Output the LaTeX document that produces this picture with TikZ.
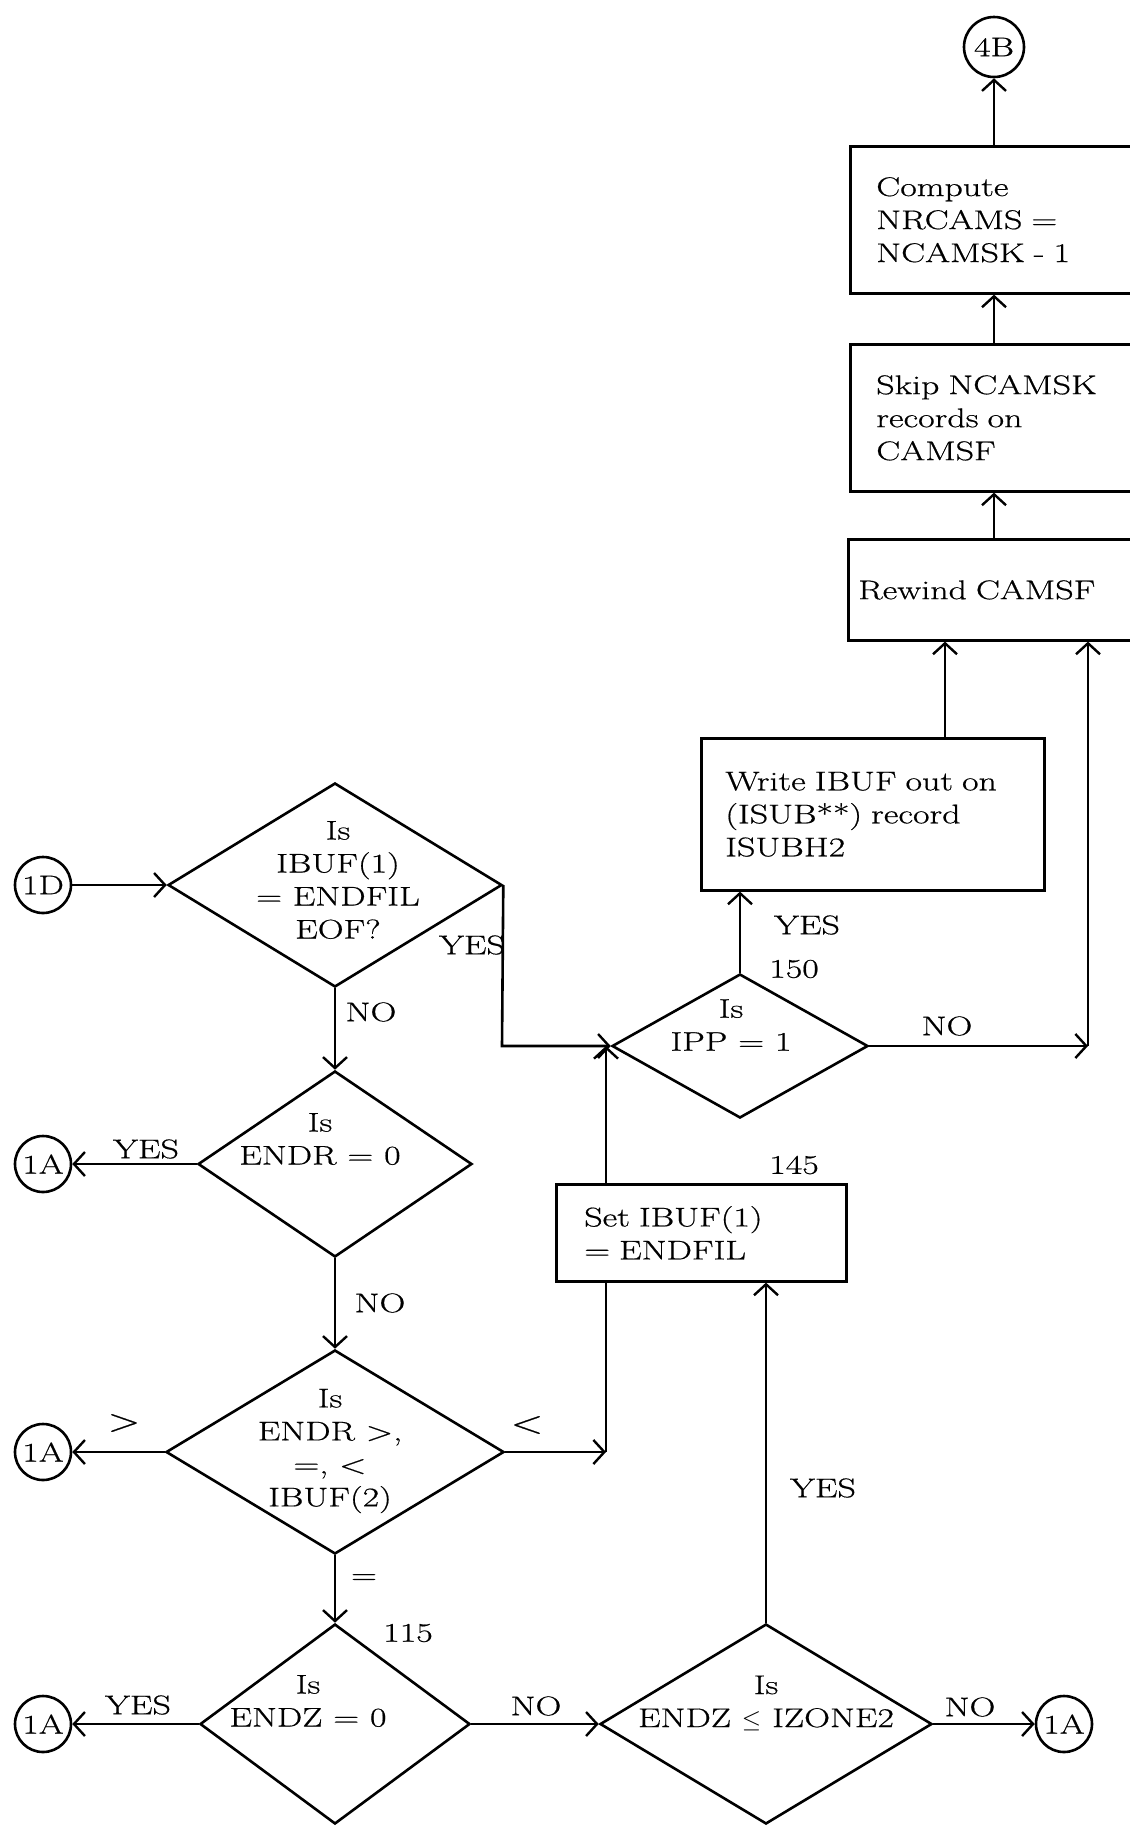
\documentclass[tikz,border=0pt]{standalone}
\usepackage{fontspec}
\setmainfont{Latin Modern Roman}[FakeStretch=1.33,FakeBold=0.6]
\usetikzlibrary{arrows.meta,shapes.geometric}
\begin{document}
\begin{tikzpicture}[x=1pt,y=-1pt,line width=2.6pt,
  every node/.style={font=\fontsize{27}{33}\selectfont},
  arr/.style={-{Straight Barb[length=11pt,width=24pt,line width=2.4pt]}},
  conn/.style={circle,draw,minimum size=56pt,inner sep=0pt},
  proc/.style={draw,rectangle,anchor=north west,align=left,inner ysep=0pt},
  dia/.style={draw,diamond,inner sep=0pt},
  dtext/.style={align=center,inner sep=0pt},
  lbl/.style={inner sep=0pt},
  rel/.style={inner sep=0pt,font=\fontsize{32}{36}\selectfont}]
\useasboundingbox (0,0) rectangle (1130,1829);
\clip (0,0) rectangle (1130,1829);

% connectors (circles)
\node[conn,minimum size=60pt] (c4B) at (994,47) {4B};
\node[conn] (c1D) at (43,885) {1D};
\node[conn] (a1) at (43,1164) {1A};
\node[conn] (a2) at (43,1452) {1A};
\node[conn] (a3) at (43,1724) {1A};
\node[conn] (a4) at (1064,1724) {1A};

% process boxes
\node[proc,minimum width=320pt,minimum height=147pt,inner xsep=26pt,text width=268pt] (compute) at (849,145) {Compute\\NRCAMS =\\NCAMSK - 1};
\node[proc,minimum width=320pt,minimum height=147pt,inner xsep=26pt,text width=268pt] (skip) at (849,343) {Skip NCAMSK\\records on\\CAMSF};
\node[proc,minimum width=320pt,minimum height=101pt,inner xsep=10pt,text width=300pt] (rewind) at (847,538) {Rewind CAMSF};
\node[proc,minimum width=343pt,minimum height=152pt,inner xsep=24pt,text width=295pt] (write) at (700,737) {Write IBUF out on\\(ISUB**) record\\ISUBH2};
\node[proc,minimum width=290pt,minimum height=97pt,inner xsep=28pt,text width=234pt] (set) at (555,1183) {Set IBUF(1)\\= ENDFIL};

% decisions
\node[dia,minimum width=334pt,minimum height=204pt] (d1) at (335,885) {};
\node[dia,minimum width=274pt,minimum height=186pt] (d2) at (335,1164) {};
\node[dia,minimum width=338pt,minimum height=204pt] (d3) at (335,1452) {};
\node[dia,minimum width=270pt,minimum height=200pt] (d4) at (335,1724) {};
\node[dia,minimum width=332pt,minimum height=200pt] (d5) at (766,1724) {};
\node[dia,minimum width=256pt,minimum height=144pt] (ipp) at (740,1046) {};

\node[dtext] (d1t) at (338,880) {Is\\IBUF(1)\\= ENDFIL\\EOF?};
\node[dtext] (d2t) at (320,1139) {Is\\ENDR = 0};
\node[dtext] (d3t) at (330,1451) {Is\\ENDR >,\\=, <\\IBUF(2)};
\node[dtext] (d4t) at (308,1701) {Is\\ENDZ = 0};
\node[dtext] (d5t) at (766,1703) {Is\\ENDZ $\leq$ IZONE2};
\node[dtext] (ippt) at (731,1025) {Is\\IPP = 1};

% helper coordinates
\coordinate (xw) at (945,0);
\coordinate (jno) at (1088,1046);
\coordinate (jyes) at (502,1046);
\coordinate (jlt) at (606,1452);
\coordinate (jup) at (606,1046);

% edges
\draw[arr] (compute.north -| c4B) -- (c4B.south);
\draw[arr] (skip.north -| c4B) -- (compute.south -| c4B);
\draw[arr] (rewind.north -| c4B) -- (skip.south -| c4B);
\draw[arr] (write.north -| xw) -- (rewind.south -| xw);
\draw[arr] (ipp.north) -- (write.south -| ipp.north);
\draw[arr] (ipp.east) -- (jno);
\draw[arr] (jno) -- (rewind.south -| jno);
\draw[arr] (c1D.east) -- (d1.west);
\draw[arr] (d1.east) -- (jyes) -- (ipp.west);
\draw[arr] (d1.south) -- (d2.north);
\draw[arr] (d2.west) -- (a1.east);
\draw[arr] (d2.south) -- (d3.north);
\draw[arr] (d3.west) -- (a2.east);
\draw[arr] (d3.east) -- (jlt);
\draw (jlt) -- (set.south -| jlt);
\draw[arr] (set.north -| jlt) -- (jup);
\draw[arr] (d3.south) -- (d4.north);
\draw[arr] (d4.west) -- (a3.east);
\draw[arr] (d4.east) -- (d5.west);
\draw[arr] (d5.north) -- (set.south -| d5.north);
\draw[arr] (d5.east) -- (a4.west);

% labels
\node[lbl] (l1) at (472,945) {YES};
\node[lbl] (l2) at (371,1012) {NO};
\node[lbl] (l3) at (146,1149) {YES};
\node[lbl] (l4) at (380,1303) {NO};
\node[rel] (l5) at (124,1423) {>};
\node[rel] (l6) at (527,1425) {<};
\node[lbl] (l7) at (364,1579) {=};
\node[lbl] (l8) at (408,1633) {115};
\node[lbl] (l9) at (138,1705) {YES};
\node[lbl] (l10) at (536,1706) {NO};
\node[lbl] (l11) at (823,1488) {YES};
\node[lbl] (l12) at (970,1707) {NO};
\node[lbl] (l13) at (794,1165) {145};
\node[lbl] (l14) at (807,925) {YES};
\node[lbl] (l15) at (794,969) {150};
\node[lbl] (l16) at (947,1026) {NO};
\end{tikzpicture}
\end{document}
